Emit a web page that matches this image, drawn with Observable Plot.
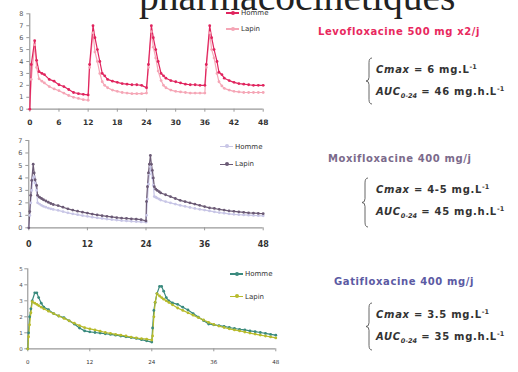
<!DOCTYPE html>
<html><head><meta charset="utf-8">
<script src="https://cdn.jsdelivr.net/npm/d3@7"></script>
<script src="https://cdn.jsdelivr.net/npm/@observablehq/plot@0.6"></script>
<style>
html,body{margin:0;padding:0;background:#fff}
body{width:518px;height:372px;overflow:hidden;position:relative;font-family:"DejaVu Sans",sans-serif}
.title{position:absolute;left:139px;top:-22px;font-family:"Liberation Serif",serif;font-size:39.6px;line-height:39px;color:#222;white-space:nowrap}
.drug{position:absolute;font-weight:bold;font-size:10px;letter-spacing:0.6px;white-space:nowrap}
.fl{position:absolute;font-weight:bold;font-size:10px;letter-spacing:0.7px;color:#333;white-space:nowrap}
.fl i{font-style:italic}
.fl sup{font-size:6.5px;vertical-align:4px;letter-spacing:0}
.fl sub{font-size:6.5px;vertical-align:-3px;letter-spacing:0}
.leg{position:absolute;color:#333;white-space:nowrap;display:flex;align-items:center}
.leg span.l{display:inline-block;width:13px;height:1.3px;position:relative;margin-right:2px}
.leg span.l b{position:absolute;left:4.5px;top:-1.6px;width:4px;height:4px;border-radius:50%}
</style></head><body>
<script>
// ---------- DATA ----------
const hoursTicksLevo = [0,6,12,18,24,30,36,42,48];
const hoursTicks = [0,12,24,36,48];
const seriesNames = ["Homme","Lapin"];

const levoT = [0,0.3,1,1.4,1.9,2.5,3,4,5,6,7,8,9,10,11,12,
  12.3,13,13.4,13.9,14.4,14.9,15.4,16,17,18,19,20,21,22,23,24,
  24.4,25,25.4,25.9,26.4,27,27.5,28,29,30,31,32,33,34,35,36,
  36.3,37,37.4,37.9,38.5,38.9,39.5,40,41,42,43,44,45,46,47,48];
const levoHomme = [0,3.75,5.75,4.1,3.15,3.0,2.9,2.5,2.35,2.05,1.9,1.65,1.4,1.3,1.25,1.2,
  3.75,7.0,6.0,5.0,4.0,3.0,2.8,2.5,2.35,2.25,2.15,2.1,2.05,2.05,2.0,1.8,
  3.75,7.0,6.0,5.0,4.0,3.0,2.8,2.6,2.4,2.3,2.2,2.1,2.05,2.05,2.0,2.0,
  3.75,7.0,6.0,5.0,4.0,3.1,2.9,2.6,2.4,2.25,2.15,2.1,2.05,2.0,2.0,2.0];
const levoLapin = [0,2.5,5.4,3.5,2.55,2.35,2.2,1.9,1.7,1.55,1.35,1.15,1.0,0.9,0.8,0.75,
  3.5,6.4,4.8,4.0,3.0,2.3,2.0,1.8,1.6,1.5,1.4,1.35,1.3,1.3,1.3,1.35,
  3.5,6.5,5.2,4.3,3.2,2.4,2.0,1.8,1.6,1.5,1.45,1.4,1.35,1.35,1.35,1.35,
  3.5,6.4,5.0,4.3,3.0,2.3,1.95,1.75,1.6,1.5,1.45,1.4,1.4,1.4,1.4,1.4];

const moxiT = [0,0.2,0.4,0.6,0.9,1.1,1.3,1.6,1.8,2.2,2.6,3,3.5,4,4.5,5,6,7,8,9,10,11,12,13,14,15,16,17,18,19,20,21,22,23,24,
  24.1,24.3,24.5,24.7,24.9,25.1,25.3,25.5,25.7,26,26.3,26.7,27,28,29,30,31,32,33,34,35,36,37,38,39,40,41,42,43,44,45,46,47,48];
const moxiHomme = [0,1.0,2.0,3.0,4.0,4.1,3.6,3.0,2.0,1.9,1.8,1.72,1.65,1.58,1.52,1.47,1.4,1.3,1.2,1.12,1.05,0.98,0.92,0.85,0.8,0.75,0.7,0.66,0.62,0.58,0.55,0.52,0.5,0.47,0.45,
  1.0,2.3,3.5,4.3,4.9,4.6,4.0,3.4,2.5,2.45,2.38,2.3,2.22,2.1,2.0,1.9,1.8,1.72,1.63,1.55,1.48,1.42,1.35,1.28,1.22,1.17,1.12,1.08,1.05,1.03,1.01,0.99,0.97,0.96];
const moxiLapin = [0,1.3,2.6,3.8,5.1,4.4,3.85,3.4,2.6,2.45,2.35,2.25,2.15,2.05,1.95,1.87,1.78,1.65,1.52,1.42,1.33,1.25,1.18,1.1,1.03,0.97,0.92,0.87,0.82,0.78,0.75,0.72,0.69,0.65,0.55,
  2.1,3.3,4.4,5.1,5.8,5.1,4.6,4.0,3.3,3.1,3.0,2.9,2.8,2.65,2.5,2.35,2.2,2.1,2.0,1.9,1.8,1.7,1.6,1.55,1.48,1.42,1.36,1.32,1.28,1.24,1.2,1.18,1.15,1.13];

const gatiT = [0,0.15,0.35,0.6,0.85,1.35,1.75,2.1,2.6,3.1,4,5,6,7,8,9,10,11,12,13,14,15,16,17,18,19,20,21,22,23,24,
  24.15,24.4,24.65,25.0,25.5,25.9,26.3,26.8,27.3,28,29,30,31,32,33,34,35,36,37,38,39,40,41,42,43,44,45,46,47,48];
const gatiHomme = [0,1.0,2.0,2.5,3.0,3.5,3.5,3.2,2.85,2.6,2.45,2.2,2.05,1.95,1.75,1.55,1.3,1.12,1.06,1.02,0.98,0.94,0.9,0.85,0.8,0.75,0.7,0.65,0.57,0.5,0.42,
  1.3,2.4,2.9,3.45,3.9,3.9,3.6,3.2,3.0,2.87,2.78,2.6,2.43,2.2,1.98,1.77,1.55,1.5,1.45,1.4,1.33,1.27,1.22,1.18,1.12,1.07,1.02,0.96,0.9,0.85];
const gatiLapin = [0,0.75,1.5,2.25,2.95,2.85,2.78,2.7,2.6,2.5,2.35,2.2,2.05,1.9,1.75,1.6,1.45,1.32,1.25,1.18,1.1,1.02,0.96,0.9,0.85,0.8,0.73,0.68,0.63,0.6,0.55,
  0.8,2.0,2.9,3.45,3.3,3.2,3.1,3.0,2.9,2.75,2.55,2.4,2.25,2.1,1.95,1.8,1.65,1.52,1.42,1.33,1.25,1.18,1.12,1.05,0.98,0.92,0.86,0.8,0.74,0.68];

const drugs = ["Levofloxacine 500 mg x2/j","Moxifloxacine 400 mg/j","Gatifloxacine 400 mg/j"];
const cmaxTexts = ["6","4-5","3.5"];
const aucTexts = ["46","45","35"];

// ---------- RENDER ----------
function panel(o){
  const data = [];
  o.series.forEach((vals,i)=>vals.forEach((v,j)=>data.push({t:o.t[j],c:v,s:seriesNames[i]})));
  const ordered = o.order.flatMap(n=>data.filter(d=>d.s===n));
  const svg = Plot.plot({
    width:o.width,height:o.height,
    marginTop:o.mt,marginBottom:o.mb,marginLeft:o.ml,marginRight:o.mr,
    style:{background:"transparent",overflow:"visible",fontFamily:"DejaVu Sans"},
    x:{domain:[0,48]},
    y:{domain:[0,o.yMax]},
    color:{domain:seriesNames,range:o.colors},
    marks:[
      Plot.axisX({ticks:o.xTicks,tickFormat:d3.format("d"),tickSize:3,tickPadding:o.xPad,fontSize:o.xFont,fontWeight:o.xBold?"bold":"normal",stroke:"#999",fill:"#333",label:null}),
      Plot.axisY({ticks:d3.range(0,o.yMax+1),tickFormat:d3.format("d"),tickSize:3,tickPadding:o.yPad,fontSize:o.yFont,stroke:"#999",fill:"#555",label:null}),
      Plot.ruleY([0],{stroke:"#999",strokeWidth:1.3}),
      Plot.ruleX([0],{stroke:"#888",strokeWidth:1}),
      Plot.line(ordered,{x:"t",y:"c",z:"s",stroke:"s",strokeWidth:1.2}),
      Plot.dot(ordered,{x:"t",y:"c",fill:"s",r:1.4})
    ]
  });
  svg.style.position="absolute";
  svg.style.left=o.left+"px";
  svg.style.top=o.top+"px";
  document.body.appendChild(svg);
}

const levoColors=["#e0245e","#f5a6b6"];
const moxiColors=["#c8c6e6","#6b5a75"];
const gatiColors=["#3a8a7e","#b8bb2c"];

panel({t:levoT,series:[levoHomme,levoLapin],order:["Lapin","Homme"],colors:levoColors,xTicks:hoursTicksLevo,yMax:8,
  width:300,height:130,left:0,top:0,mt:13.3,mb:21.3,ml:29.3,mr:37.3,xFont:7.5,yFont:6.5,xBold:true,xPad:7,yPad:3.5});
panel({t:moxiT,series:[moxiHomme,moxiLapin],order:["Homme","Lapin"],colors:moxiColors,xTicks:hoursTicks,yMax:7,
  width:300,height:120,left:0,top:130,mt:10,mb:22.7,ml:28.3,mr:37.3,xFont:8,yFont:6.5,xBold:true,xPad:10.5,yPad:3.3});
panel({t:gatiT,series:[gatiHomme,gatiLapin],order:["Homme","Lapin"],colors:gatiColors,xTicks:hoursTicks,yMax:5,
  width:300,height:122,left:0,top:250,mt:18.3,mb:23.7,ml:27.3,mr:24.7,xFont:5.5,yFont:5.5,xBold:false,xPad:8.5,yPad:2});

// legends
const legendPos = [
  {colors:levoColors, x:226, ys:[13,29], size:7},
  {colors:moxiColors, x:220, ys:[146.7,164.3], size:7},
  {colors:gatiColors, x:230, ys:[274,296.7], size:7}
];
legendPos.forEach(p=>{
  seriesNames.forEach((n,i)=>{
    const d=document.createElement("div");
    d.className="leg";
    d.style.left=p.x+"px"; d.style.top=(p.ys[i]-6)+"px"; d.style.height="12px"; d.style.fontSize=p.size+"px";
    d.innerHTML=`<span class="l" style="background:${p.colors[i]}"><b style="background:${p.colors[i]}"></b></span>${n}`;
    document.body.appendChild(d);
  });
});

// title
const t=document.createElement("div");
t.className="title"; t.textContent="pharmacocinétiques";
document.body.appendChild(t);

// right text
const blocks=[
  {color:"#e8285e", dx:318, dy:33, fx:376, fy:[70,92], brace:[366,58,104]},
  {color:"#7b6a8b", dx:328, dy:160, fx:376, fy:[190,212], brace:[362,178,227]},
  {color:"#5b5aa3", dx:334, dy:283, fx:376, fy:[315,337], brace:[366,303,350]}
];
blocks.forEach((b,i)=>{
  const d=document.createElement("div");
  d.className="drug"; d.style.color=b.color; d.style.left=b.dx+"px"; d.style.top=(b.dy-7)+"px";
  d.textContent=drugs[i]; document.body.appendChild(d);
  const c=document.createElement("div");
  c.className="fl"; c.style.left=b.fx+"px"; c.style.top=(b.fy[0]-7)+"px";
  c.innerHTML=`<i>Cmax</i> = ${cmaxTexts[i]} mg.L<sup>-1</sup>`;
  document.body.appendChild(c);
  const a=document.createElement("div");
  a.className="fl"; a.style.left=b.fx+"px"; a.style.top=(b.fy[1]-7)+"px";
  a.innerHTML=`<i>AUC<sub>0-24</sub></i> = ${aucTexts[i]} mg.h.L<sup>-1</sup>`;
  document.body.appendChild(a);
  const h=b.brace[2]-b.brace[1], w=6;
  const ns="http://www.w3.org/2000/svg";
  const s=document.createElementNS(ns,"svg");
  s.setAttribute("width",w+2); s.setAttribute("height",h+2);
  s.style.position="absolute"; s.style.left=(b.brace[0]-1)+"px"; s.style.top=(b.brace[1]-1)+"px";
  const p=document.createElementNS(ns,"path");
  const m=w/2+1;
  p.setAttribute("d",`M${w+1},1 Q${m},1 ${m},${h*0.1+1} L${m},${h*0.42+1} Q${m},${h/2+1} 1,${h/2+1} Q${m},${h/2+1} ${m},${h*0.58+1} L${m},${h*0.9+1} Q${m},${h+1} ${w+1},${h+1}`);
  p.setAttribute("fill","none"); p.setAttribute("stroke","#555"); p.setAttribute("stroke-width","0.9");
  s.appendChild(p); document.body.appendChild(s);
});
</script>
</body></html>
